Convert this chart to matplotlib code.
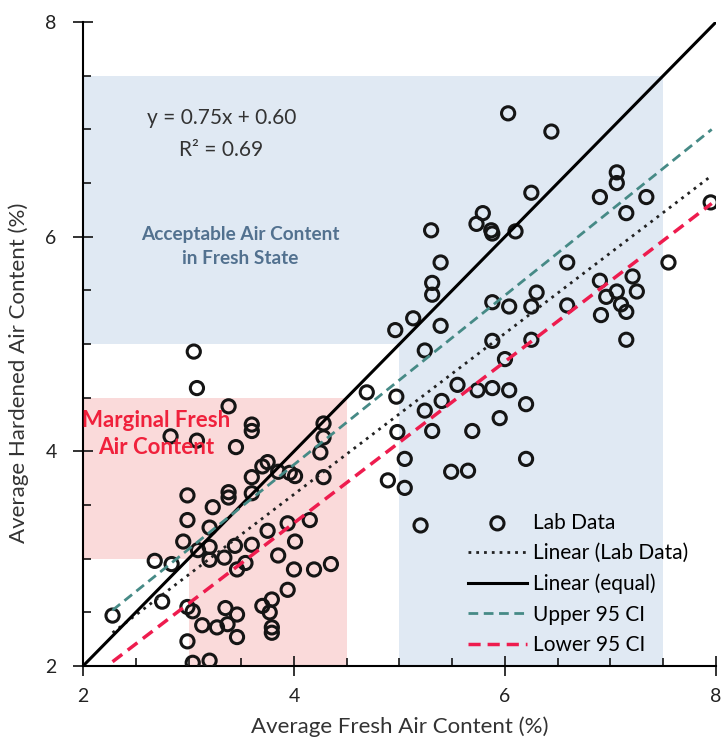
import matplotlib
matplotlib.use('Agg')
import matplotlib.pyplot as plt
from matplotlib.patches import Rectangle

plt.rcParams['font.family'] = ['Lato', 'DejaVu Sans']

# Lab data: average fresh vs hardened air content (%)
fresh = [3.05, 3.08, 3.38, 3.60, 3.60, 2.83, 3.08, 3.45, 4.28, 4.28,
         4.25, 4.28, 3.75, 3.70, 3.60, 3.85, 3.96, 4.01, 3.60, 3.38,
         3.38, 2.99, 3.23, 2.99, 3.20, 2.95, 3.60, 3.75, 3.94, 4.15,
         4.01, 3.44, 3.09, 3.20, 3.20, 3.34, 3.46, 3.54, 3.85, 4.00,
         4.19, 4.35, 2.68, 2.84, 2.75, 2.28, 2.99, 3.04, 3.13, 3.27,
         3.35, 3.46, 3.37, 3.46, 3.70, 3.79, 3.77, 3.94, 3.79, 3.79,
         2.99, 3.04, 3.20,
         6.03, 6.44, 7.06, 7.06, 6.90, 7.34, 6.25, 7.15, 5.79, 5.73,
         5.87, 5.88, 6.10, 5.30, 5.39, 5.31, 5.31, 5.13, 4.96, 5.39,
         5.24, 6.59, 7.55, 7.95, 6.90, 7.21, 7.25, 7.06, 6.96, 7.10,
         7.15, 6.91, 6.59, 6.30, 6.25, 6.04, 5.88, 7.15, 6.25, 5.88,
         6.00, 4.69, 4.97, 5.55, 5.74, 5.88, 6.04, 6.20, 5.40, 5.24,
         5.95, 4.98, 5.31, 5.69, 5.05, 6.20, 5.49, 5.65, 4.89, 5.05,
         5.20]
hardened = [4.93, 4.59, 4.42, 4.25, 4.19, 4.14, 4.10, 4.04, 4.26, 4.13,
            3.99, 3.76, 3.90, 3.86, 3.76, 3.81, 3.80, 3.77, 3.61, 3.62,
            3.57, 3.59, 3.48, 3.36, 3.29, 3.16, 3.13, 3.26, 3.33, 3.36,
            3.16, 3.12, 3.08, 3.11, 2.99, 3.01, 2.90, 2.96, 3.03, 2.90,
            2.90, 2.95, 2.98, 2.95, 2.60, 2.47, 2.55, 2.51, 2.38, 2.36,
            2.54, 2.48, 2.39, 2.27, 2.56, 2.62, 2.50, 2.71, 2.36, 2.31,
            2.23, 2.03, 2.05,
            7.15, 6.98, 6.60, 6.50, 6.37, 6.37, 6.41, 6.22, 6.22, 6.12,
            6.06, 6.03, 6.05, 6.06, 5.76, 5.57, 5.46, 5.24, 5.13, 5.17,
            4.94, 5.76, 5.76, 6.32, 5.59, 5.63, 5.49, 5.49, 5.44, 5.37,
            5.30, 5.27, 5.36, 5.48, 5.35, 5.35, 5.39, 5.04, 5.04, 5.03,
            4.86, 4.55, 4.51, 4.62, 4.57, 4.59, 4.57, 4.44, 4.47, 4.38,
            4.31, 4.18, 4.19, 4.19, 3.93, 3.93, 3.81, 3.82, 3.73, 3.66,
            3.31]

# line end points
fit_x = [2.28, 7.96]
fit_y = [2.31, 6.57]
equal_x = [2, 8]
equal_y = [2, 8]
upper_y = [2.52, 7.00]
lower_y = [2.04, 6.31]

fig = plt.figure(figsize=(7.25, 7.47), dpi=100)
ax = fig.add_axes([0.1145, 0.1084, 0.873, 0.862])

# shaded regions (L-shaped zones)
blue = '#e0e9f3'
pink = '#fadada'
ax.add_patch(Rectangle((2, 5), 5.5, 2.5, color=blue, lw=0, zorder=0))
ax.add_patch(Rectangle((5, 2), 2.5, 3, color=blue, lw=0, zorder=0))
ax.add_patch(Rectangle((2, 3), 2.5, 1.5, color=pink, lw=0, zorder=0))
ax.add_patch(Rectangle((3, 2), 1.5, 1, color=pink, lw=0, zorder=0))

ax.scatter(fresh, hardened, s=90, facecolors='none', edgecolors='#151515',
           linewidths=2.2, zorder=3, label='Lab Data')
ax.plot(fit_x, fit_y, color='#222222', ls=(0, (1, 1.8)), lw=2,
        zorder=4, label='Linear (Lab Data)')
ax.plot(equal_x, equal_y, color='black', lw=2.2, zorder=4,
        label='Linear (equal)')
ax.plot(fit_x, upper_y, color='#468a86', ls=(0, (3.5, 2)), lw=2,
        zorder=4, label='Upper 95 CI')
ax.plot(fit_x, lower_y, color='#ee1c4e', ls=(0, (3.5, 2)), lw=2.5,
        zorder=4, label='Lower 95 CI')

ax.text(3.31, 7.11, 'y = 0.75x + 0.60', ha='center', va='center',
        fontsize=15, color='#333333')
ax.text(3.31, 6.81, 'R² = 0.69', ha='center', va='center',
        fontsize=15, color='#333333')
ax.text(3.49, 5.91, 'Acceptable Air Content\nin Fresh State', ha='center',
        va='center', fontsize=13.7, fontweight='bold', color='#52718f',
        linespacing=1.55)
ax.text(2.69, 4.16, 'Marginal Fresh\nAir Content', ha='center',
        va='center', fontsize=16, fontweight='bold', color='#f0213c',
        linespacing=1.35)

ax.set_xlim(2, 8)
ax.set_ylim(2, 8)
ax.set_xticks([2, 4, 6, 8])
ax.set_yticks([2, 4, 6, 8])
ax.set_xticks([2.5, 3, 3.5, 4.5, 5, 5.5, 6.5, 7, 7.5], minor=True)
ax.set_yticks([2.5, 3, 3.5, 4.5, 5, 5.5, 6.5, 7, 7.5], minor=True)
ax.tick_params(which='major', direction='inout', length=14, width=1.3,
               labelsize=14, colors='#222222')
ax.tick_params(axis='x', which='major', pad=9)
ax.tick_params(axis='y', which='major', pad=12)
ax.tick_params(which='minor', direction='in', length=6, width=1.1)
ax.spines['top'].set_visible(False)
ax.spines['right'].set_visible(False)
ax.spines['left'].set_linewidth(1.5)
ax.spines['bottom'].set_linewidth(1.5)

ax.set_xlabel('Average Fresh Air Content (%)', fontsize=16, color='#333333',
              labelpad=8)
ax.set_ylabel('Average Hardened Air Content (%)', fontsize=16,
              color='#333333')
ax.yaxis.set_label_coords(-0.085, 0.455)

ax.legend(loc='lower right', bbox_to_anchor=(0.956, 0.017), frameon=False,
          fontsize=15, handlelength=2.8, labelspacing=0.5, handletextpad=0.3,
          borderaxespad=0, borderpad=0, scatterpoints=1)

fig.savefig('out.png', dpi=100)
